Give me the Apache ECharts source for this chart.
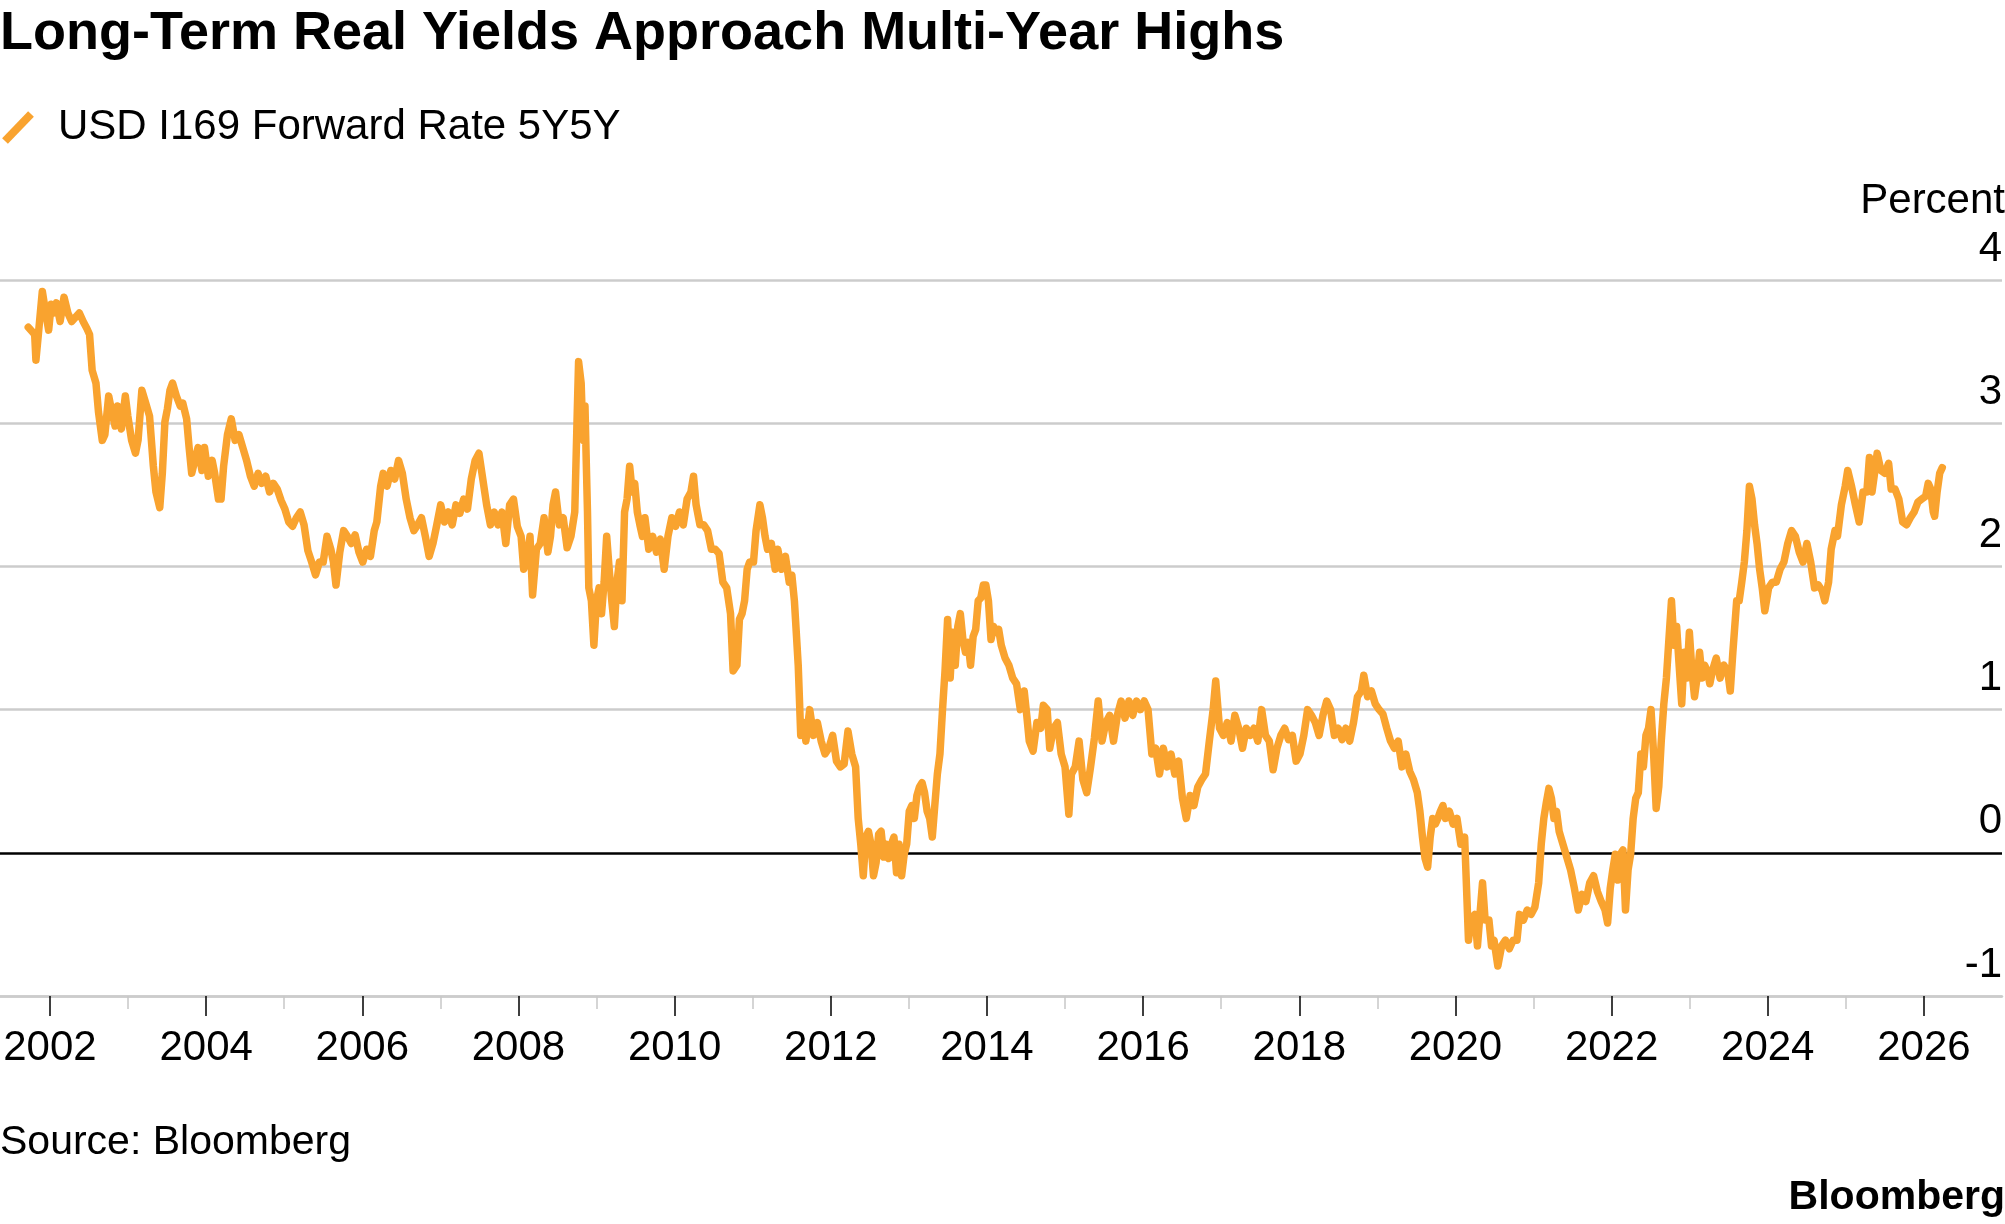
<!DOCTYPE html>
<html>
<head>
<meta charset="utf-8">
<script src="https://cdn.jsdelivr.net/npm/echarts@6/dist/echarts.min.js"></script>
<style>
html,body{margin:0;padding:0;background:#fff;}
#chart{width:2005px;height:1224px;}
</style>
</head>
<body>
<div id="chart"></div>
<script>
// ---- Data (decimal year, percent) ----
const titleText = 'Long-Term Real Yields Approach Multi-Year Highs';
const seriesName = 'USD I169 Forward Rate 5Y5Y';
const unitLabel = 'Percent';
const sourceText = 'Source: Bloomberg';
const brandText = 'Bloomberg';
const majorYears = [2002,2004,2006,2008,2010,2012,2014,2016,2018,2020,2022,2024,2026];
const minorYears = [2003,2005,2007,2009,2011,2013,2015,2017,2019,2021,2023,2025];
const yTicks = [-1,0,1,2,3,4];

const dates = [
2001.722,2001.771,2001.804,2001.820,2001.853,2001.902,2001.934,2001.983,2002.016,2002.049,2002.082,2002.130,2002.180,2002.229,2002.278,2002.327,2002.376,2002.425,2002.474,2002.507,
2002.540,2002.589,2002.621,2002.670,2002.703,2002.752,2002.785,2002.834,2002.866,2002.915,2002.965,2002.997,2003.046,2003.095,2003.128,2003.177,2003.226,2003.275,2003.324,2003.357,
2003.406,2003.439,2003.472,2003.504,2003.537,2003.570,2003.619,2003.668,2003.701,2003.750,2003.782,2003.815,2003.864,2003.897,2003.946,2003.979,2004.028,2004.077,2004.109,2004.158,
2004.191,2004.224,2004.273,2004.322,2004.371,2004.420,2004.469,2004.518,2004.567,2004.616,2004.665,2004.714,2004.763,2004.812,2004.861,2004.910,2004.960,2005.009,2005.058,2005.107,
2005.156,2005.205,2005.254,2005.303,2005.352,2005.401,2005.450,2005.499,2005.548,2005.597,2005.630,2005.663,2005.712,2005.761,2005.810,2005.859,2005.908,2005.957,2006.006,2006.055,
2006.104,2006.153,2006.186,2006.235,2006.268,2006.317,2006.366,2006.415,2006.464,2006.513,2006.562,2006.611,2006.660,2006.709,2006.758,2006.807,2006.856,2006.905,2006.954,2007.004,
2007.053,2007.102,2007.151,2007.200,2007.249,2007.298,2007.347,2007.396,2007.445,2007.494,2007.543,2007.592,2007.641,2007.690,2007.739,2007.788,2007.838,2007.887,2007.936,2007.985,
2008.034,2008.067,2008.099,2008.148,2008.181,2008.230,2008.279,2008.328,2008.377,2008.410,2008.443,2008.475,2008.524,2008.573,2008.623,2008.672,2008.721,2008.754,2008.770,2008.803,
2008.819,2008.835,2008.852,2008.868,2008.884,2008.901,2008.934,2008.966,2008.999,2009.032,2009.064,2009.097,2009.130,2009.162,2009.195,2009.228,2009.261,2009.293,2009.326,2009.359,
2009.391,2009.424,2009.457,2009.489,2009.522,2009.555,2009.588,2009.620,2009.669,2009.719,2009.768,2009.817,2009.866,2009.915,2009.964,2010.013,2010.062,2010.111,2010.160,2010.209,
2010.242,2010.275,2010.324,2010.373,2010.422,2010.471,2010.520,2010.569,2010.618,2010.667,2010.716,2010.749,2010.798,2010.830,2010.863,2010.896,2010.929,2010.961,2011.010,2011.043,
2011.092,2011.125,2011.158,2011.190,2011.239,2011.288,2011.321,2011.370,2011.419,2011.468,2011.501,2011.534,2011.583,2011.615,2011.648,2011.681,2011.730,2011.779,2011.828,2011.877,
2011.926,2011.975,2012.024,2012.073,2012.122,2012.171,2012.220,2012.269,2012.318,2012.351,2012.384,2012.416,2012.449,2012.482,2012.515,2012.547,2012.580,2012.613,2012.645,2012.678,
2012.711,2012.743,2012.776,2012.809,2012.842,2012.874,2012.907,2012.940,2012.972,2013.005,2013.038,2013.070,2013.103,2013.136,2013.169,2013.201,2013.234,2013.267,2013.300,2013.332,
2013.365,2013.398,2013.431,2013.463,2013.496,2013.529,2013.561,2013.594,2013.627,2013.659,2013.692,2013.725,2013.758,2013.790,2013.823,2013.856,2013.888,2013.921,2013.954,2013.986,
2014.019,2014.052,2014.085,2014.117,2014.150,2014.183,2014.232,2014.281,2014.330,2014.379,2014.428,2014.477,2014.510,2014.542,2014.591,2014.640,2014.689,2014.722,2014.771,2014.804,
2014.853,2014.902,2014.951,2015.000,2015.049,2015.082,2015.131,2015.180,2015.229,2015.278,2015.327,2015.376,2015.425,2015.474,2015.523,2015.572,2015.621,2015.670,2015.719,2015.768,
2015.818,2015.867,2015.916,2015.965,2016.014,2016.063,2016.112,2016.161,2016.210,2016.259,2016.308,2016.357,2016.406,2016.455,2016.504,2016.553,2016.602,2016.651,2016.700,2016.750,
2016.799,2016.848,2016.897,2016.930,2016.979,2017.028,2017.077,2017.126,2017.175,2017.224,2017.273,2017.322,2017.371,2017.420,2017.469,2017.518,2017.567,2017.616,2017.665,2017.714,
2017.764,2017.813,2017.862,2017.911,2017.960,2018.009,2018.058,2018.107,2018.156,2018.205,2018.254,2018.303,2018.352,2018.401,2018.450,2018.499,2018.548,2018.597,2018.646,2018.695,
2018.745,2018.794,2018.826,2018.875,2018.924,2018.973,2019.022,2019.071,2019.120,2019.169,2019.218,2019.267,2019.316,2019.365,2019.414,2019.463,2019.512,2019.545,2019.578,2019.611,
2019.644,2019.677,2019.709,2019.742,2019.775,2019.807,2019.840,2019.873,2019.922,2019.971,2020.020,2020.069,2020.118,2020.167,2020.200,2020.249,2020.282,2020.314,2020.347,2020.380,
2020.429,2020.462,2020.494,2020.543,2020.592,2020.641,2020.690,2020.739,2020.788,2020.821,2020.870,2020.919,2020.968,2021.017,2021.066,2021.099,2021.132,2021.164,2021.197,2021.230,
2021.262,2021.295,2021.328,2021.377,2021.426,2021.475,2021.524,2021.573,2021.622,2021.671,2021.720,2021.769,2021.818,2021.867,2021.916,2021.949,2021.982,2022.015,2022.047,2022.080,
2022.113,2022.146,2022.178,2022.211,2022.244,2022.276,2022.309,2022.342,2022.375,2022.407,2022.440,2022.473,2022.505,2022.538,2022.571,2022.604,2022.636,2022.669,2022.702,2022.734,
2022.767,2022.800,2022.833,2022.865,2022.898,2022.931,2022.963,2022.996,2023.029,2023.062,2023.094,2023.127,2023.160,2023.192,2023.225,2023.258,2023.291,2023.340,2023.389,2023.438,
2023.487,2023.520,2023.553,2023.602,2023.634,2023.667,2023.700,2023.733,2023.765,2023.798,2023.831,2023.863,2023.896,2023.929,2023.962,2024.011,2024.060,2024.109,2024.158,2024.207,
2024.256,2024.305,2024.354,2024.403,2024.452,2024.501,2024.550,2024.599,2024.648,2024.697,2024.730,2024.779,2024.812,2024.861,2024.893,2024.943,2024.992,2025.024,2025.073,2025.122,
2025.171,2025.220,2025.269,2025.302,2025.335,2025.368,2025.401,2025.450,2025.499,2025.548,2025.581,2025.630,2025.679,2025.728,2025.777,2025.826,2025.875,2025.924,2025.973,2026.022,
2026.055,2026.087,2026.120,2026.137,2026.169,2026.202,2026.235
];

const rates = [
3.67,3.64,3.62,3.44,3.63,3.92,3.81,3.65,3.83,3.77,3.84,3.71,3.88,3.77,3.71,3.74,3.77,3.71,3.66,3.62,
3.37,3.28,3.08,2.88,2.92,3.19,3.10,2.98,3.12,2.96,3.19,3.05,2.88,2.79,2.88,3.23,3.14,3.05,2.70,2.52,
2.41,2.65,3.01,3.10,3.23,3.28,3.19,3.12,3.14,3.03,2.83,2.65,2.76,2.83,2.67,2.83,2.63,2.74,2.65,2.47,
2.47,2.70,2.92,3.03,2.88,2.92,2.83,2.74,2.63,2.56,2.65,2.58,2.63,2.52,2.58,2.54,2.46,2.40,2.31,2.28,
2.34,2.38,2.29,2.11,2.03,1.94,2.03,2.03,2.21,2.12,2.03,1.87,2.10,2.25,2.21,2.16,2.22,2.10,2.03,2.12,
2.07,2.25,2.31,2.56,2.65,2.56,2.67,2.61,2.74,2.65,2.47,2.34,2.25,2.29,2.34,2.21,2.07,2.16,2.29,2.43,
2.31,2.38,2.29,2.43,2.37,2.47,2.40,2.61,2.74,2.79,2.61,2.43,2.29,2.38,2.29,2.38,2.16,2.43,2.47,2.28,
2.21,1.98,2.03,2.21,1.80,2.12,2.16,2.34,2.10,2.21,2.43,2.52,2.29,2.34,2.13,2.21,2.38,3.10,3.43,3.28,
3.01,2.88,3.12,2.74,2.38,1.85,1.76,1.45,1.76,1.85,1.67,1.89,2.21,1.98,1.76,1.58,1.89,2.03,1.76,2.38,
2.47,2.70,2.52,2.58,2.38,2.29,2.21,2.34,2.12,2.21,2.10,2.19,1.98,2.21,2.34,2.28,2.38,2.29,2.47,2.52,
2.63,2.43,2.29,2.29,2.25,2.12,2.12,2.09,1.89,1.85,1.67,1.27,1.31,1.63,1.67,1.76,1.98,2.03,2.03,2.25,
2.43,2.34,2.21,2.12,2.16,1.98,2.12,1.98,2.07,1.89,1.94,1.76,1.31,0.82,0.91,0.78,1.00,0.82,0.91,0.78,
0.69,0.73,0.82,0.64,0.60,0.62,0.85,0.69,0.60,0.24,0.06,-0.16,0.11,0.15,0.06,-0.16,-0.07,0.13,0.15,-0.03,
0.06,-0.04,0.06,0.11,-0.14,0.06,-0.16,-0.01,0.06,0.29,0.33,0.24,0.40,0.46,0.49,0.42,0.29,0.24,0.11,0.33,
0.55,0.69,1.00,1.27,1.63,1.22,1.54,1.31,1.58,1.67,1.49,1.40,1.47,1.31,1.51,1.56,1.76,1.78,1.87,1.87,
1.76,1.49,1.58,1.54,1.56,1.45,1.36,1.31,1.22,1.18,1.00,1.13,0.96,0.78,0.71,0.91,0.87,1.03,1.00,0.73,
0.87,0.91,0.69,0.60,0.27,0.55,0.60,0.78,0.51,0.42,0.60,0.80,1.06,0.78,0.91,0.96,0.78,0.96,1.06,0.94,
1.06,0.96,1.06,1.00,1.06,1.00,0.69,0.73,0.55,0.73,0.60,0.69,0.55,0.64,0.38,0.24,0.40,0.33,0.46,0.51,
0.55,0.78,1.00,1.20,0.87,0.82,0.91,0.78,0.96,0.87,0.73,0.87,0.82,0.87,0.78,1.00,0.82,0.78,0.58,0.73,
0.82,0.87,0.79,0.82,0.64,0.69,0.82,1.00,0.96,0.91,0.82,0.96,1.06,1.00,0.82,0.87,0.79,0.87,0.78,0.91,
1.09,1.13,1.24,1.09,1.13,1.04,1.00,0.97,0.87,0.78,0.73,0.78,0.60,0.69,0.57,0.51,0.42,0.29,0.11,-0.04,
-0.10,0.11,0.24,0.20,0.24,0.29,0.33,0.24,0.29,0.20,0.24,0.06,0.11,-0.61,-0.47,-0.43,-0.65,-0.43,-0.21,-0.47,
-0.47,-0.65,-0.61,-0.79,-0.65,-0.61,-0.67,-0.61,-0.61,-0.43,-0.47,-0.40,-0.43,-0.38,-0.21,0.06,0.24,0.35,0.45,0.38,
0.24,0.29,0.15,0.06,-0.03,-0.12,-0.25,-0.40,-0.29,-0.34,-0.21,-0.16,-0.27,-0.34,-0.40,-0.49,-0.25,-0.12,-0.01,-0.19,
-0.01,0.02,-0.40,-0.12,-0.01,0.24,0.38,0.42,0.69,0.60,0.82,0.87,1.00,0.69,0.31,0.46,0.78,1.04,1.22,1.49,
1.76,1.45,1.58,1.31,1.04,1.40,1.22,1.54,1.27,1.09,1.22,1.40,1.22,1.31,1.27,1.18,1.27,1.36,1.22,1.31,
1.27,1.13,1.40,1.76,1.76,1.89,2.03,2.25,2.56,2.47,2.29,2.16,1.98,1.85,1.69,1.85,1.89,1.89,1.98,2.03,
2.16,2.25,2.21,2.10,2.03,2.16,2.03,1.85,1.87,1.83,1.76,1.89,2.12,2.25,2.21,2.43,2.56,2.67,2.56,2.43,
2.31,2.52,2.52,2.76,2.52,2.65,2.79,2.67,2.65,2.72,2.54,2.54,2.47,2.31,2.29,2.34,2.38,2.45,2.47,2.49,
2.58,2.54,2.38,2.35,2.52,2.65,2.69
];

// ---- Chart ----
const FONT = '"Liberation Sans", Arial, sans-serif';
const ORANGE = '#f9a32f';
const lineData = dates.map((d, i) => [d, rates[i]]);

const chart = echarts.init(document.getElementById('chart'), null, {renderer: 'canvas'});
const gridColors = yTicks.map(v => v === 0 ? '#000000' : '#cccccc');

chart.setOption({
  animation: false,
  backgroundColor: '#ffffff',
  textStyle: {fontFamily: FONT},
  grid: {left: 0, right: 0, top: 280, bottom: 228, containLabel: false},
  xAxis: [{
    type: 'value', min: 2001.36, max: 2027.0, position: 'bottom',
    axisLine: {show: true, onZero: false, lineStyle: {color: '#cccccc', width: 2.5}},
    axisTick: {show: true, customValues: majorYears, length: 20, lineStyle: {color: '#000000', width: 1.5}},
    axisLabel: {show: true, customValues: majorYears, formatter: v => String(v), fontSize: 42, color: '#000000', fontFamily: FONT, margin: 31},
    splitLine: {show: false}
  }, {
    type: 'value', min: 2001.36, max: 2027.0, position: 'bottom', offset: 0,
    axisLine: {show: false, onZero: false},
    axisTick: {show: true, customValues: minorYears, length: 13, lineStyle: {color: '#c8c8c8', width: 1.5}},
    axisLabel: {show: false, customValues: minorYears},
    splitLine: {show: false}
  }],
  yAxis: {
    type: 'value', position: 'right', min: -1, max: 4, interval: 1,
    axisLine: {show: false}, axisTick: {show: false},
    axisLabel: {inside: true, margin: 0, fontSize: 42, color: '#000000', fontFamily: FONT,
      align: 'right', verticalAlign: 'bottom', lineHeight: 62},
    splitLine: {show: true, lineStyle: {color: gridColors, width: 2.5}}
  },
  series: [{
    name: seriesName, type: 'line', xAxisIndex: 0, yAxisIndex: 0,
    data: lineData, showSymbol: false, symbol: 'none', sampling: null,
    lineStyle: {color: ORANGE, width: 7.5, join: 'round', cap: 'round'},
    z: 5
  }],
  graphic: [
    {type: 'text', x: 0, y: 34, style: {text: titleText, font: 'bold 54px ' + FONT, fill: '#000', verticalAlign: 'middle'}},
    {type: 'line', shape: {x1: 5, y1: 141, x2: 31, y2: 114}, style: {stroke: ORANGE, lineWidth: 8}},
    {type: 'text', x: 58, y: 127, style: {text: seriesName, font: '42px ' + FONT, fill: '#000', verticalAlign: 'middle'}},
    {type: 'text', x: 2005, y: 201, style: {text: unitLabel, font: '42px ' + FONT, fill: '#000', align: 'right', verticalAlign: 'middle'}},
    {type: 'text', x: 0, y: 1143, style: {text: sourceText, font: '41px ' + FONT, fill: '#000', verticalAlign: 'middle'}},
    {type: 'text', x: 2005, y: 1198, style: {text: brandText, font: 'bold 41px ' + FONT, fill: '#000', align: 'right', verticalAlign: 'middle'}}
  ]
});
</script>
</body>
</html>
